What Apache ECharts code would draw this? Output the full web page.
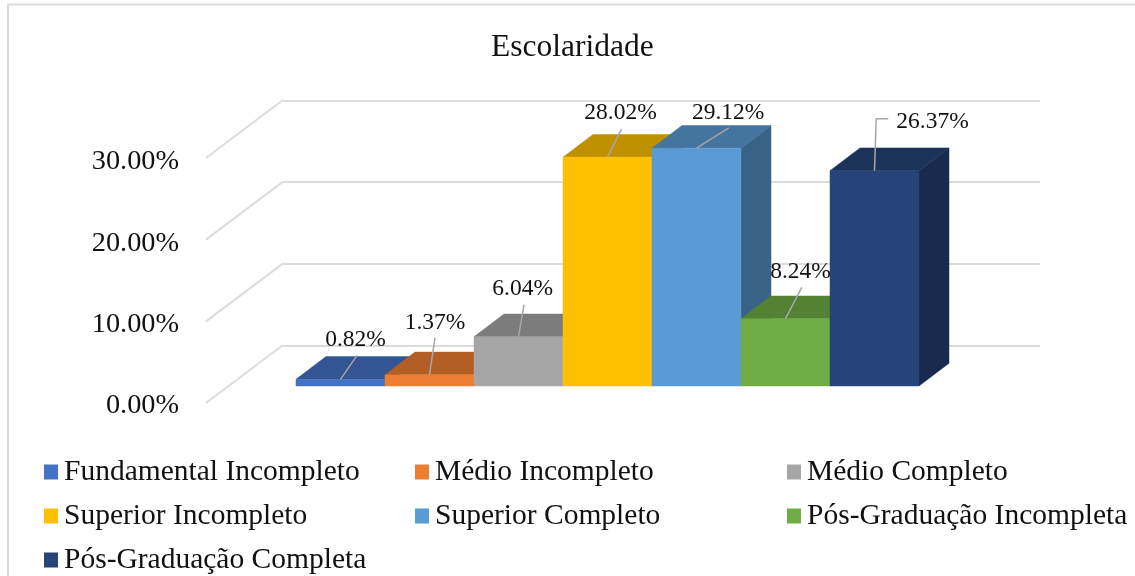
<!DOCTYPE html>
<html>
<head>
<meta charset="utf-8">
<style>
  html, body { margin: 0; padding: 0; background: #fff; }
  #chart { width: 1135px; height: 576px; }
</style>
<script src="https://cdn.jsdelivr.net/npm/echarts@6/dist/echarts.min.js"></script>
</head>
<body>
<div id="chart"></div>
<script>
const categories = [
  "Fundamental Incompleto", "Médio Incompleto", "Médio Completo", "Superior Incompleto",
  "Superior Completo", "Pós-Graduação Incompleta", "Pós-Graduação Completa",
];
const values = [0.82, 1.37, 6.04, 28.02, 29.12, 8.24, 26.37];
const yTicks = [0, 10, 20, 30];

const frontColors = ["#4472C4", "#ED7D31", "#A5A5A5", "#FFC000", "#5B9BD5", "#70AD47", "#264478"];
const topColors = ["#335593", "#B25E25", "#7C7C7C", "#BF9000", "#4474A0", "#548235", "#1C3359"];
const sideColors = ["#2A477B", "#944E1E", "#676767", "#9F7800", "#396386", "#466C2C", "#182B4C"];

// label centre and leader line points, relative to the middle of each bar's top front edge
const labelOffsets = [[15, -39], [5.5, -52], [4.2, -47.7], [13, -44.3], [31.7, -35.3], [15, -47], [58, -48.8]];
const leaderPoints = [
  [[16.5, -24]], [[5.5, -37]], [[5.5, -31.7]], [[14, -28]],
  [[32.3, -20.3]], [[16.3, -31.4]], [[1.7, -51.8], [13.7, -51.8]],
];

const FONT = '"Liberation Serif", "Times New Roman", serif';
const BAR_DX = 30, BAR_DY = -22.7;
const WALL_DX = 77, WALL_DY = -58;
const GRID_LINE = "#dcdcdc";

function renderBar(params, api) {
  const i = api.value(0);
  const v = api.value(1);
  const base = api.coord([i, 0]);
  const top = api.coord([i, v]);
  const w = api.size([1, 0])[0];
  const x0 = base[0] - w / 2, x1 = base[0] + w / 2;
  const poly = (points, fill) => ({
    type: "polygon",
    shape: { points },
    style: { fill, stroke: fill, lineWidth: 0.5 },
  });
  const anchor = [base[0], top[1]];
  const linePts = [anchor].concat(leaderPoints[i].map((p) => [anchor[0] + p[0], anchor[1] + p[1]]));
  return {
    type: "group",
    children: [
      poly([[x1, base[1]], [x1 + BAR_DX, base[1] + BAR_DY], [x1 + BAR_DX, top[1] + BAR_DY], [x1, top[1]]], sideColors[i]),
      poly([[x0, top[1]], [x1, top[1]], [x1 + BAR_DX, top[1] + BAR_DY], [x0 + BAR_DX, top[1] + BAR_DY]], topColors[i]),
      poly([[x0, base[1]], [x1, base[1]], [x1, top[1]], [x0, top[1]]], frontColors[i]),
      {
        type: "polyline",
        z2: 100,
        shape: { points: linePts },
        style: { stroke: "#a6a6a6", lineWidth: 1.5, fill: "none" },
      },
      {
        type: "text",
        z2: 101,
        style: {
          text: v.toFixed(2) + "%",
          x: anchor[0] + labelOffsets[i][0],
          y: anchor[1] + labelOffsets[i][1],
          align: "center",
          verticalAlign: "middle",
          fill: "#111",
          font: '23.5px ' + FONT,
        },
      },
    ],
  };
}

function renderWall(params, api) {
  const p = api.coord([0, api.value(0)]);
  return {
    type: "line",
    shape: { x1: p[0], y1: p[1], x2: p[0] + WALL_DX, y2: p[1] + WALL_DY },
    style: { stroke: GRID_LINE, lineWidth: 2 },
  };
}

const legendOf = (left, names) => ({
  left,
  top: 457,
  height: 119,
  orient: "vertical",
  icon: "rect",
  itemWidth: 14,
  itemHeight: 15,
  itemGap: 14,
  itemStyle: { borderWidth: 0 },
  padding: 0,
  selectedMode: false,
  data: names,
  textStyle: { fontFamily: FONT, fontSize: 29.5, color: "#111", padding: [0, 0, 0, 1] },
});

const option = {
  animation: false,
  backgroundColor: "#fff",
  title: {
    text: "Escolaridade",
    left: 491,
    top: 32,
    padding: 0,
    textStyle: { fontFamily: FONT, fontSize: 31.5, fontWeight: "normal", color: "#111" },
  },
  graphic: [{
    type: "rect",
    z: -1,
    shape: { x: 8, y: 4.5, width: 1300, height: 800 },
    style: { fill: "none", stroke: GRID_LINE, lineWidth: 2 },
  }],
  legend: [
    legendOf(44, [categories[0], categories[3], categories[6]]),
    legendOf(415, [categories[1], categories[4]]),
    legendOf(787, [categories[2], categories[5]]),
  ],
  grid: [
    { left: 206, top: 158, width: 77, height: 245 },
    { left: 283, top: 100.5, width: 757, height: 245 },
    { left: 296, top: 141, width: 623, height: 245 },
    { left: 206, top: 162, width: 77, height: 244 },
  ],
  xAxis: [
    { gridIndex: 0, type: "value", show: false, min: 0, max: 1 },
    { gridIndex: 1, type: "value", show: false, min: 0, max: 1 },
    { gridIndex: 2, type: "category", show: false, data: categories },
    { gridIndex: 3, type: "value", show: false, min: 0, max: 1 },
  ],
  yAxis: [
    { gridIndex: 0, type: "value", show: false, min: 0, max: 30 },
    {
      gridIndex: 1, type: "value", min: 0, max: 30, interval: 10,
      axisLine: { show: false }, axisTick: { show: false }, axisLabel: { show: false },
      splitLine: { lineStyle: { color: GRID_LINE, width: 2 } },
    },
    { gridIndex: 2, type: "value", show: false, min: 0, max: 30 },
    {
      gridIndex: 3, type: "value", min: 0, max: 30, interval: 10,
      axisLine: { show: false }, axisTick: { show: false }, splitLine: { show: false },
      axisLabel: {
        margin: 27,
        fontFamily: FONT, fontSize: 28.3, color: "#111",
        formatter: (v) => v.toFixed(2) + "%",
      },
    },
  ],
  series: [
    {
      type: "custom",
      xAxisIndex: 0,
      yAxisIndex: 0,
      silent: true,
      renderItem: renderWall,
      encode: { y: 0 },
      data: yTicks.map((t) => [t]),
    },
  ].concat(categories.map((name, i) => ({
    type: "custom",
    name,
    xAxisIndex: 2,
    yAxisIndex: 2,
    silent: true,
    itemStyle: { color: frontColors[i] },
    renderItem: renderBar,
    encode: { x: 0, y: 1 },
    data: [[i, values[i]]],
  }))),
};

const myChart = echarts.init(document.getElementById("chart"));
myChart.setOption(option);
</script>
</body>
</html>
